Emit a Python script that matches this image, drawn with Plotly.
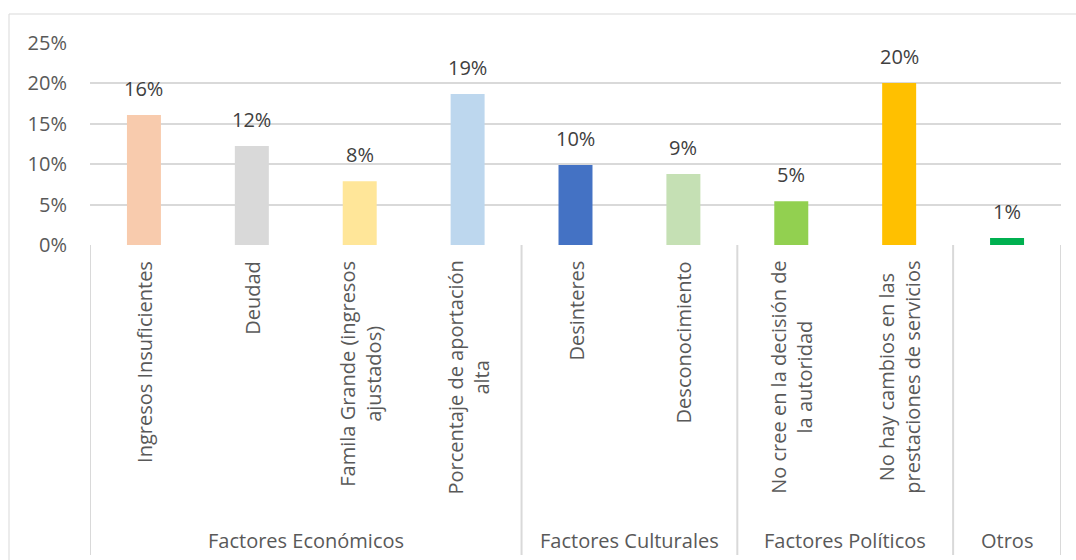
import plotly.graph_objects as go

categories = [
    "Ingresos Insuficientes",
    "Deudad",
    "Famila Grande (ingresos<br>ajustados)",
    "Porcentaje de aportación<br>alta",
    "Desinteres",
    "Desconocimiento",
    "No cree en la decisión de<br>la autoridad",
    "No hay cambios en las<br>prestaciones de servicios",
    "",
]
values = [16.1, 12.25, 7.9, 18.7, 9.9, 8.8, 5.4, 20.05, 0.87]
bar_colors = ["#F8CBAD", "#D9D9D9", "#FFE699", "#BDD7EE", "#4472C4",
              "#C5E0B4", "#92D050", "#FFC000", "#00B050"]
groups = ["Factores Económicos", "Factores Culturales", "Factores Políticos", "Otros"]
group_sizes = [4, 2, 2, 1]
y_ticks = [0, 5, 10, 15, 20, 25]

FONT = "Open Sans"
TXT = "#595959"
FS = 20

x_idx = list(range(len(categories)))

fig = go.Figure()
fig.add_trace(go.Bar(
    x=x_idx, y=values,
    marker=dict(color=bar_colors, line=dict(width=0)),
    width=0.315,
    hoverinfo="skip",
))

annotations = []
for i, v in enumerate(values):
    annotations.append(dict(
        x=i, y=v, xref="x", yref="y", yshift=11,
        text=f"{round(v):d}%", showarrow=False,
        xanchor="center", yanchor="bottom",
        font=dict(family=FONT, size=FS, color="#404040"),
    ))

for i, c in enumerate(categories):
    if not c:
        continue
    annotations.append(dict(
        x=i, y=0, xref="x", yref="paper", yshift=-14,
        text=c, textangle=-90, showarrow=False,
        xanchor="center", yanchor="top", align="center",
        font=dict(family=FONT, size=FS, color=TXT),
    ))

shapes = []
start = 0
bounds = [-0.5]
for g, n in zip(groups, group_sizes):
    center = start + (n - 1) / 2
    annotations.append(dict(
        x=center, y=0, xref="x", yref="paper", yshift=-295,
        text=g, showarrow=False, xanchor="center", yanchor="middle",
        font=dict(family=FONT, size=FS, color=TXT),
    ))
    start += n
    bounds.append(start - 0.5)

for b in bounds:
    shapes.append(dict(type="line", xref="x", yref="paper",
                       x0=b, x1=b, y0=0, y1=-310 / 202,
                       line=dict(color="#D9D9D9", width=2), layer="below"))

# outer chart border
shapes.append(dict(type="line", xref="paper", yref="paper",
                   x0=-81 / 971, x1=1.1, y0=231 / 202, y1=231 / 202,
                   line=dict(color="#D9D9D9", width=1)))
shapes.append(dict(type="line", xref="paper", yref="paper",
                   x0=-81 / 971, x1=-81 / 971, y0=231 / 202, y1=-330 / 202,
                   line=dict(color="#D9D9D9", width=1)))

fig.update_layout(
    width=1076, height=560,
    margin=dict(l=90, r=15, t=43, b=315),
    paper_bgcolor="white", plot_bgcolor="white",
    showlegend=False,
    xaxis=dict(range=[-0.5, len(categories) - 0.5], showticklabels=False,
               showgrid=False, zeroline=False, showline=False, ticks=""),
    yaxis=dict(range=[0, 25], tickvals=y_ticks,
               ticktext=[f"{t}%" for t in y_ticks],
               showgrid=True, gridcolor="#D9D9D9", gridwidth=2,
               zeroline=False, showline=False, ticks="",
               ticklabelstandoff=22,
               tickfont=dict(family=FONT, size=FS, color=TXT)),
    annotations=annotations,
    shapes=shapes,
)

fig.write_html("out.html", config={"displayModeBar": False},
               post_script="document.body.style.margin='0';")
